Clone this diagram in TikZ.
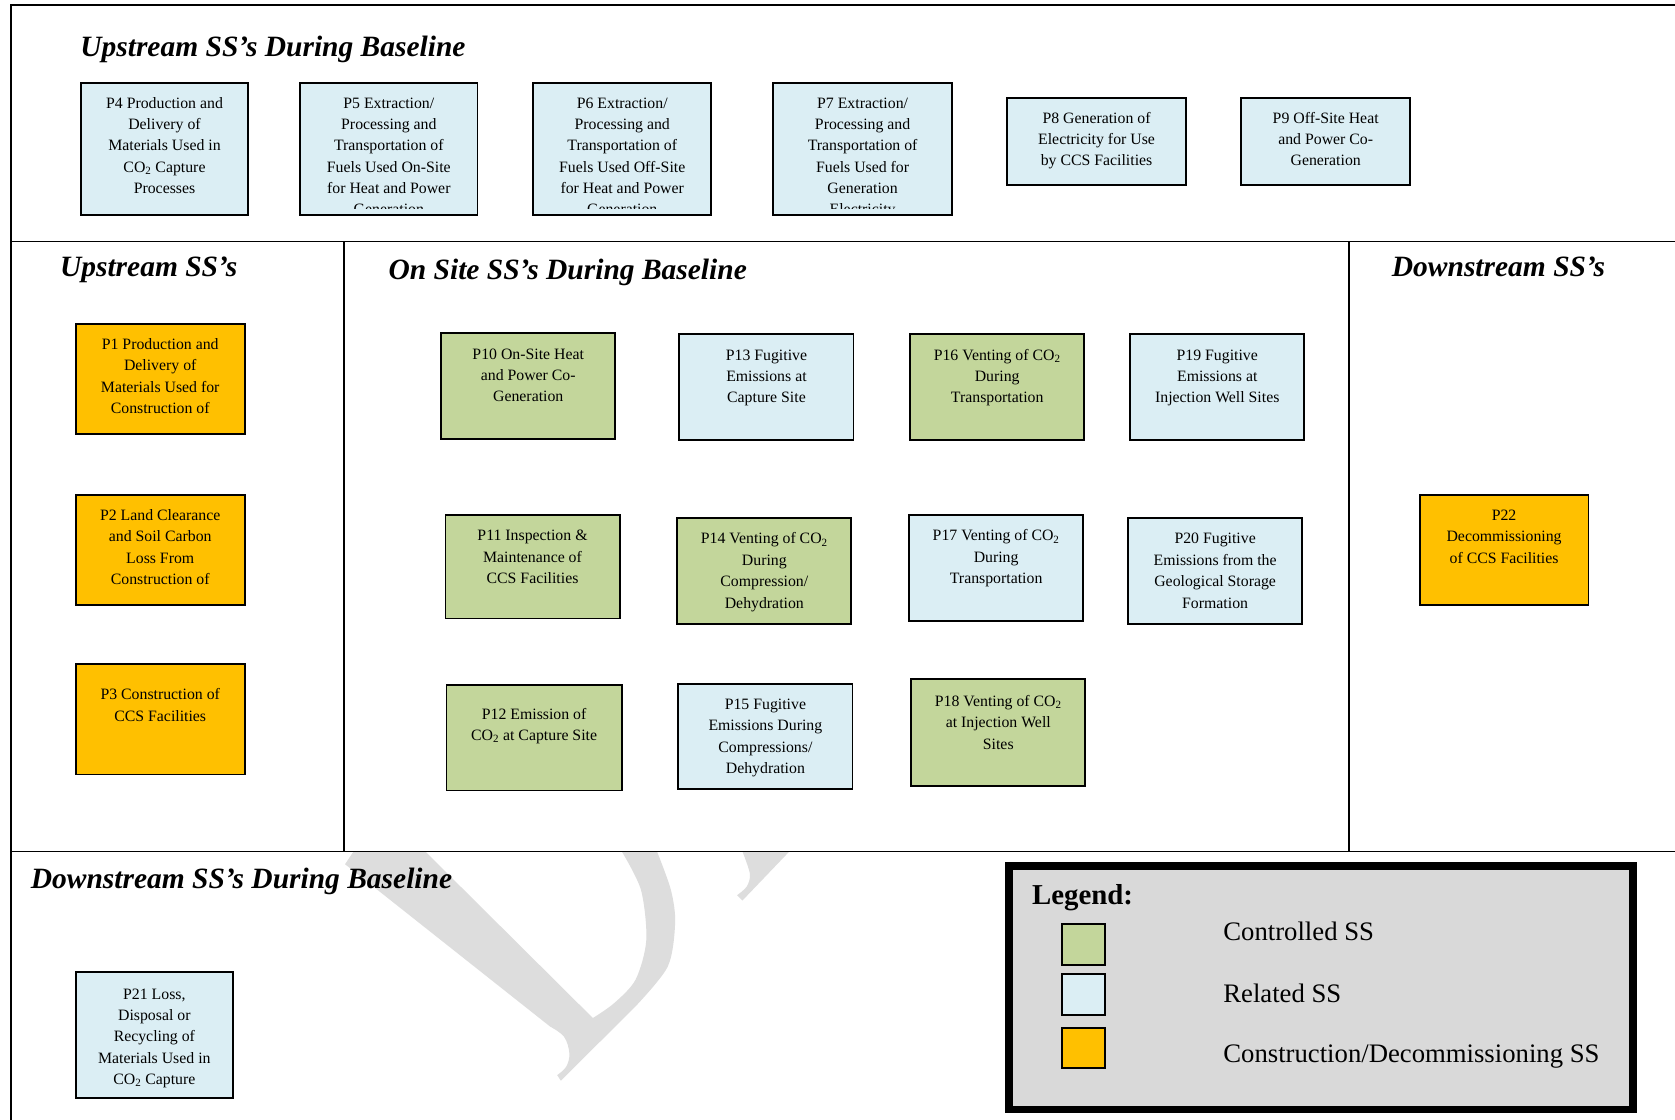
\documentclass[tikz,border=0pt]{standalone}
\usepackage{fontspec}
\setmainfont{Liberation Serif}
\definecolor{ctrlgreen}{HTML}{C3D69B}
\definecolor{relblue}{HTML}{DBEEF4}
\definecolor{consorange}{HTML}{FFC000}
\definecolor{legendgray}{HTML}{D9D9D9}
\definecolor{wmgray}{RGB}{221,221,221}
\newcommand\ssnode[8]{%
  \node[#6, minimum width={#4-#2}, minimum height={#5-#3}] (#1) at ({(#2+#4)/2},{(#3+#5)/2}) {};
  \begin{scope}
    \clip (#2,#3) rectangle (#4,{#5-6});
    \node[boxtext] (#1t) at ({(#2+#4)/2},{#7-11}) {\rule{0pt}{11pt}#8};
  \end{scope}}
\begin{document}
\begin{tikzpicture}[x=1pt,y=-1pt,
  ssbox/.style={draw=black, line width=1.8pt, rectangle, inner sep=0pt, outer sep=0pt},
  ctrl/.style={ssbox, fill=ctrlgreen},
  rel/.style={ssbox, fill=relblue},
  cons/.style={ssbox, fill=consorange},
  boxtext/.style={align=center, inner sep=0pt, anchor=north, font=\fontsize{14.8}{20}\selectfont},
  heading/.style={anchor=base west, inner sep=0pt, font=\fontsize{27.6}{30}\selectfont\bfseries\itshape},
  legtext/.style={anchor=base west, inner sep=0pt, font=\fontsize{25}{28}\selectfont},
  secline/.style={line width=1.6pt},
  wm/.style={fill=wmgray}]
\useasboundingbox (0,0) rectangle (1568,1048);
\fill[white] (0,0) rectangle (1568,1048);

% watermark fragments
\fill[wm] (331,797) -- (323,809) -- (515,961)
  -- plot[smooth, tension=0.6] coordinates {(515,961) (528,970.5) (533,986) (530,998.6) (521.6,1006.4)}
  -- (525,1011.7) -- (595,942)
  -- plot[smooth] coordinates {(595,942) (625,905) (632,864) (628,833) (615,797)}
  -- (582,797)
  -- plot[smooth] coordinates {(582,797) (600,833) (605,880) (595,917) (575,939) (555,953)}
  -- (398,797) -- cycle;
\fill[wm] (695,797) -- plot[smooth] coordinates {(695,797) (702,818) (699,830) (690,838)}
  -- (695,843) -- (739,797) -- cycle;

% section frames
\draw[secline] (10,1048) -- (10,5) -- (1568,5);
\draw[secline] (10,226) -- (1568,226);
\draw[secline] (322,226) -- (322,797);
\draw[secline] (1263,226) -- (1263,797);
\draw[secline] (10,797) -- (1568,797);

% headings
\node[heading] (h1) at (75,53) {Upstream SS’s During Baseline};
\node[heading] (h2) at (56,259) {Upstream SS’s};
\node[heading] (h3) at (363.6,262) {On Site SS’s During Baseline};
\node[heading] (h4) at (1302.8,259) {Downstream SS’s};
\node[heading] (h5) at (28.7,831.6) {Downstream SS’s During Baseline};

% upstream during baseline
\ssnode{p4}{76}{78}{232}{201}{rel}{101}{P4 Production and\\Delivery of\\Materials Used in\\CO\textsubscript{2} Capture\\Processes}
\ssnode{p5}{281}{78}{447}{201}{rel}{101}{P5 Extraction/\\Processing and\\Transportation of\\Fuels Used On-Site\\for Heat and Power\\Generation}
\ssnode{p6}{499}{78}{666}{201}{rel}{101}{P6 Extraction/\\Processing and\\Transportation of\\Fuels Used Off-Site\\for Heat and Power\\Generation}
\ssnode{p7}{724}{78}{891}{201}{rel}{101}{P7 Extraction/\\Processing and\\Transportation of\\Fuels Used for\\Generation\\Electricity}
\ssnode{p8}{943}{92}{1110}{173}{rel}{115}{P8 Generation of\\Electricity for Use\\by CCS Facilities}
\ssnode{p9}{1162}{92}{1320}{173}{rel}{115}{P9 Off-Site Heat\\and Power Co-\\Generation}

% upstream
\ssnode{p1}{71}{303}{229}{406}{cons}{327}{P1 Production and\\Delivery of\\Materials Used for\\Construction of}
\ssnode{p2}{71}{463}{229}{566}{cons}{487}{P2 Land Clearance\\and Soil Carbon\\Loss From\\Construction of}
\ssnode{p3}{71}{622}{229}{725}{cons}{655}{P3 Construction of\\CCS Facilities}

% on site
\ssnode{p10}{413}{312}{576}{411}{ctrl}{336}{P10 On-Site Heat\\and Power Co-\\Generation}
\ssnode{p13}{636}{313}{799}{412}{rel}{337}{P13 Fugitive\\Emissions at\\Capture Site}
\ssnode{p16}{852}{313}{1015}{412}{ctrl}{337}{P16 Venting of CO\textsubscript{2}\\During\\Transportation}
\ssnode{p19}{1058}{313}{1221}{412}{rel}{337}{P19 Fugitive\\Emissions at\\Injection Well Sites}
\ssnode{p11}{417}{482}{580}{579}{ctrl}{506}{P11 Inspection \&\\Maintenance of\\CCS Facilities}
\ssnode{p14}{634}{485}{797}{584}{ctrl}{509}{P14 Venting of CO\textsubscript{2}\\During\\Compression/\\Dehydration}
\ssnode{p17}{851}{482}{1014}{581}{rel}{506}{P17 Venting of CO\textsubscript{2}\\During\\Transportation}
\ssnode{p20}{1056}{485}{1219}{584}{rel}{509}{P20 Fugitive\\Emissions from the\\Geological Storage\\Formation}
\ssnode{p12}{418}{641}{582}{740}{ctrl}{673}{P12 Emission of\\CO\textsubscript{2} at Capture Site}
\ssnode{p15}{635}{640}{798}{739}{rel}{664}{P15 Fugitive\\Emissions During\\Compressions/\\Dehydration}
\ssnode{p18}{853}{636}{1016}{736}{ctrl}{661}{P18 Venting of CO\textsubscript{2}\\at Injection Well\\Sites}

% downstream
\ssnode{p22}{1329}{463}{1487}{566}{cons}{487}{P22\\Decommissioning\\of CCS Facilities}
\ssnode{p21}{71}{910}{218}{1028}{rel}{935}{P21 Loss,\\Disposal or\\Recycling of\\Materials Used in\\CO\textsubscript{2} Capture}

% legend
\node[draw=black, line width=7pt, fill=legendgray, minimum width=584, minimum height=228, inner sep=0pt] (legend) at (1236.5,924.5) {};
\node[anchor=base west, inner sep=0pt, font=\fontsize{27}{30}\selectfont\bfseries] (legtitle) at (966,847) {Legend:};
\node[ctrl, minimum width=40, minimum height=38] (sw1) at (1014,884) {};
\node[rel, minimum width=40, minimum height=38] (sw2) at (1014,931) {};
\node[cons, minimum width=40, minimum height=38] (sw3) at (1014,981) {};
\node[legtext] (l1) at (1145,880) {Controlled SS};
\node[legtext] (l2) at (1145,938) {Related SS};
\node[legtext] (l3) at (1145,995) {Construction/Decommissioning SS};
\end{tikzpicture}
\end{document}
